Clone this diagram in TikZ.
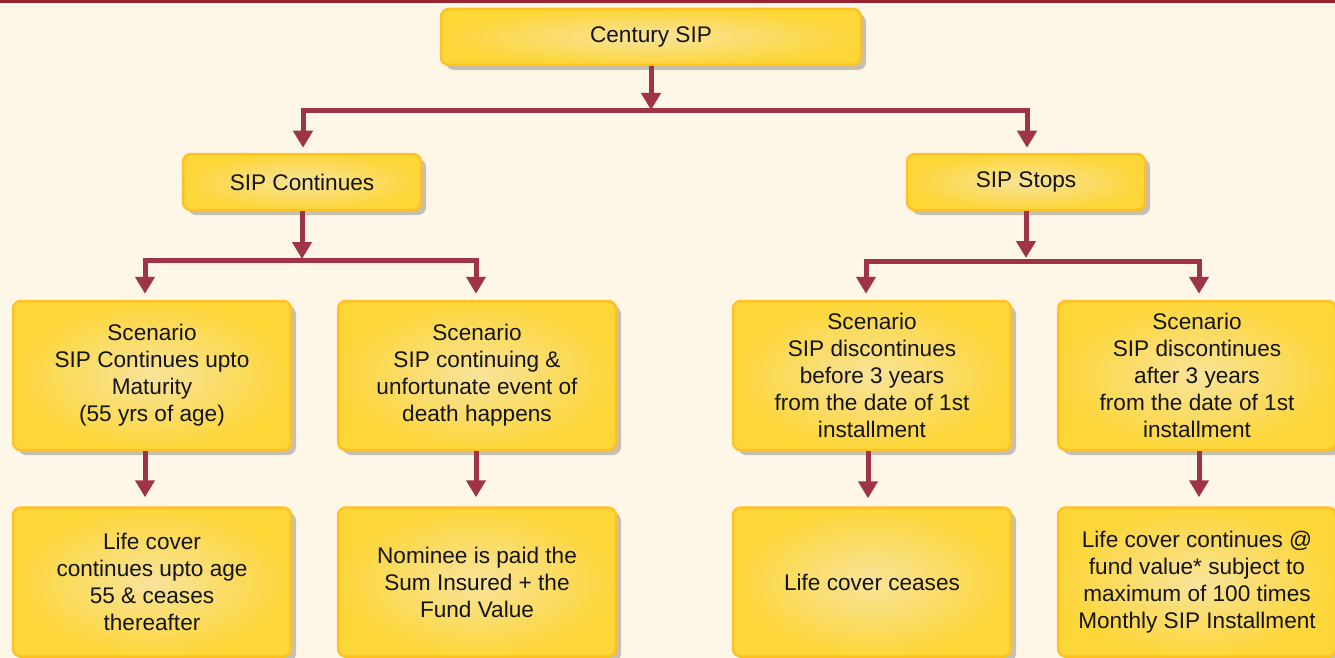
\documentclass[tikz,border=0pt]{standalone}
\usepackage{fontspec}
\setmainfont{Liberation Sans}
\usetikzlibrary{arrows.meta,shadows}
\definecolor{bgc}{HTML}{FEF7E7}
\definecolor{boxborder}{HTML}{FFC222}
\definecolor{boxout}{HTML}{FDD638}
\definecolor{boxin}{HTML}{F8E39B}
\definecolor{arrowc}{HTML}{9E3446}
\definecolor{stripedark}{HTML}{9A2432}
\definecolor{stripemid}{HTML}{F5B81B}
\begin{document}
\begin{tikzpicture}[x=1pt,y=-1pt,
  box/.style={draw=boxborder, line width=2.5pt, rounded corners=8pt,
    inner color=boxin, outer color=boxout, inner sep=0pt,
    align=center, text=black!92, font=\fontsize{22.6}{27}\selectfont,
    drop shadow={shadow xshift=5pt, shadow yshift=-5pt, fill=black, opacity=0.22}},
  smallbox/.style={box, minimum width=238pt, minimum height=56pt},
  bigbox/.style={box, minimum width=278pt, minimum height=149pt},
  arr/.style={draw=arrowc, line width=5pt, -{Triangle[width=19pt,length=17pt]}}
]
\useasboundingbox (0,0) rectangle (1335,658);
\fill[bgc] (0,0) rectangle (1335,658);
\shade[left color=stripedark, middle color=stripemid, right color=stripedark] (0,0) rectangle (1335,3);

\node[box, minimum width=420pt, minimum height=56pt] (top) at (651,37) {Century SIP};
\node[smallbox] (cont) at (302,182) {SIP Continues};
\node[smallbox] (stops) at (1026,182) {SIP Stops};

\node[bigbox] (A) at (152,375.5) {Scenario\\SIP Continues upto\\Maturity\\(55 yrs of age)};
\node[bigbox] (B) at (477,375.5) {Scenario\\SIP continuing \&\\unfortunate event of\\death happens};
\node[bigbox] (C) at (872,375.5) {Scenario\\SIP discontinues\\before 3 years\\from the date of 1st\\installment};
\node[bigbox] (D) at (1197,375.5) {Scenario\\SIP discontinues\\after 3 years\\from the date of 1st\\installment};

\node[bigbox] (A4) at (152,582) {Life cover\\continues upto age\\55 \& ceases\\thereafter};
\node[bigbox] (B4) at (477,582) {Nominee is paid the\\Sum Insured + the\\Fund Value};
\node[bigbox] (C4) at (872,582) {Life cover ceases};
\node[bigbox] (D4) at (1197,582) {Life cover continues @\\fund value* subject to\\maximum of 100 times\\Monthly SIP Installment};

\coordinate (j1) at (651,111);
\coordinate (j2) at (302,260);
\coordinate (j3) at (1026,261);

\draw[arr, shorten >=1pt] (top.south) -- (j1);
\draw[arr, shorten >=5pt] (j1) -| ([xshift=1pt]cont.north);
\draw[arr, shorten >=5pt] (j1) -| ([xshift=1pt]stops.north);

\draw[arr, shorten >=1pt] (cont.south) -- (j2);
\draw[arr, shorten >=6pt] (j2) -| ([xshift=-7pt]A.north);
\draw[arr, shorten >=6pt] (j2) -| ([xshift=-1pt]B.north);

\draw[arr, shorten >=3pt] (stops.south) -- (j3);
\draw[arr, shorten >=6pt] (j3) -| ([xshift=-6pt]C.north);
\draw[arr, shorten >=6pt] (j3) -| ([xshift=2pt]D.north);

\draw[arr, shorten >=9pt] ([xshift=-7pt]A.south) -- ([xshift=-7pt]A4.north);
\draw[arr, shorten >=9pt] ([xshift=-1pt]B.south) -- ([xshift=-1pt]B4.north);
\draw[arr, shorten >=8pt] ([xshift=-4pt]C.south) -- ([xshift=-4pt]C4.north);
\draw[arr, shorten >=9pt] ([xshift=2pt]D.south) -- ([xshift=2pt]D4.north);
\end{tikzpicture}
\end{document}
